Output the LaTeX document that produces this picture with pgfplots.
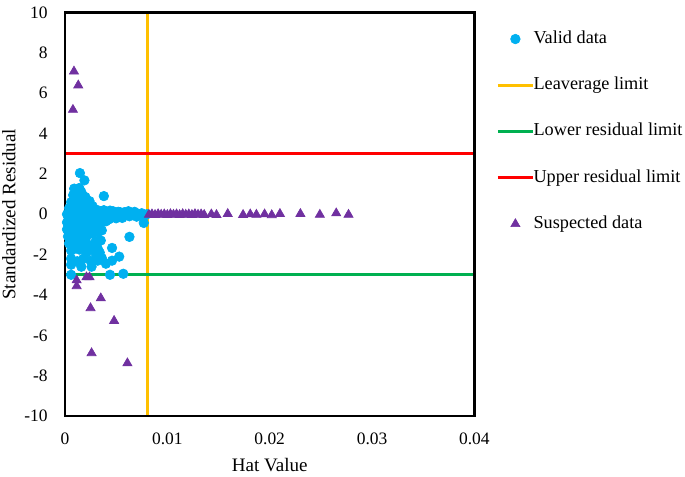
\documentclass[border=0pt]{standalone}
\usepackage{fontspec}
\setmainfont{Liberation Serif}
\usepackage{pgfplots}
\pgfplotsset{compat=1.18}
\definecolor{validblue}{RGB}{0,176,240}
\definecolor{levyellow}{RGB}{255,192,0}
\definecolor{lowgreen}{RGB}{0,176,80}
\definecolor{upred}{RGB}{255,0,0}
\definecolor{suspurple}{RGB}{112,48,160}
\pgfplotsset{
  lineleg/.style={legend image code/.code={\draw[##1] (0pt,0pt) -- (22pt,0pt);}},
  markleg/.style={legend image code/.code={\draw[mark repeat=2,mark phase=2,##1] plot coordinates {(0pt,0pt) (11pt,0pt) (22pt,0pt)};}},
}
\begin{document}
\fontsize{10.9pt}{13pt}\selectfont
\begin{tikzpicture}
\useasboundingbox (-40.6pt,-37.5pt) rectangle (387.5pt,260pt);
\begin{axis}[
  at={(0,0)}, anchor=south west,
  scale only axis, width=255.9pt, height=252.2pt,
  xmin=0, xmax=0.04, ymin=-10, ymax=10,
  xtick={0,0.01,0.02,0.03,0.04}, xticklabels={0,0.01,0.02,0.03,0.04},
  scaled x ticks=false,
  ytick={-10,-8,...,10},
  major tick length=0pt,
  /pgf/number format/assume math mode=true,
  axis line style={line width=1.5pt},
  axis on top,
  xlabel={Hat Value}, ylabel={Standardized Residual},
  every axis x label/.style={at={(axis description cs:0.5,-0.1214)}, anchor=center, font=\fontsize{11.9pt}{14pt}\selectfont},
  every axis y label/.style={at={(axis description cs:-0.137,0.5)}, rotate=90, anchor=center, font=\fontsize{11.9pt}{14pt}\selectfont},
  xticklabel style={yshift=-6.4pt},
  yticklabel style={xshift=-7pt},
  legend style={at={(axis description cs:1.0526,0.956)}, anchor=north west, draw=none, fill=none, inner sep=0pt, row sep=18.3pt, column sep=-0.6pt, font=\fontsize{11.4pt}{14pt}\selectfont, nodes={inner sep=0pt, text height=8pt, text depth=2.6pt}},
  legend cell align=left,
]
\addplot[only marks, mark=*, mark size=3pt, color=validblue, markleg]
coordinates {
(0.00146,2.04) (0.0019,1.68) (0.0009,1.27) (0.0038,0.90)
(0.0008,0.95) (0.0012,1.0) (0.0016,1.1) (0.0020,0.85) (0.0024,0.65) (0.0014,1.3) (0.0018,0.9)
(0.0006,0.6) (0.0010,0.65) (0.0014,0.7) (0.0018,0.6) (0.0022,0.5) (0.0027,0.4)
(0.0004,0.3) (0.0008,0.35) (0.0012,0.3) (0.0016,0.35) (0.0020,0.25) (0.0024,0.2) (0.0028,0.2) (0.0032,0.2)
(0.0002,0.0) (0.0006,0.0) (0.0010,0.05) (0.0014,-0.05) (0.0018,0.0) (0.0022,-0.05) (0.0026,0.0) (0.0030,-0.05) (0.0034,0.05)
(0.0004,-0.15) (0.0008,-0.18) (0.0012,-0.15) (0.0016,-0.2) (0.0020,-0.15) (0.0024,-0.18) (0.0028,-0.15) (0.0032,-0.15)
(0.0036,0.15) (0.0039,-0.1) (0.0042,0.1) (0.0045,-0.15) (0.0048,0.05) (0.0051,-0.1) (0.0054,0.1) (0.0057,-0.05) (0.0060,0.05) (0.0063,-0.1) (0.0066,0.05) (0.0069,-0.05) (0.0072,0.0) (0.0075,0.05) (0.0078,-0.05) (0.0080,0.0) (0.0077,-0.43)
(0.0043,-0.25) (0.0047,0.15) (0.0052,0.12) (0.0040,-0.35) (0.0035,-0.3) (0.0058,0.1) (0.0064,0.08) (0.0070,-0.12) (0.0038,0.2) (0.0044,0.18) (0.0050,-0.2) (0.0056,-0.18) (0.0062,0.15) (0.0068,0.12)
(0.0002,-0.4) (0.0006,-0.35) (0.0010,-0.3) (0.0014,-0.4) (0.0018,-0.35) (0.0022,-0.3) (0.0026,-0.35) (0.0030,-0.3)
(0.0004,-0.55) (0.0008,-0.5) (0.0012,-0.55) (0.0016,-0.55) (0.0020,-0.5) (0.0024,-0.52) (0.0028,-0.48)
(0.0002,-0.75) (0.0006,-0.7) (0.0010,-0.7) (0.0014,-0.75) (0.0018,-0.7) (0.0022,-0.65) (0.0026,-0.7) (0.0030,-0.6) (0.0034,-0.55)
(0.0004,-0.9) (0.0008,-0.88) (0.0012,-0.85) (0.0016,-0.9) (0.0020,-0.85) (0.0024,-0.85)
(0.0003,-1.1) (0.0007,-1.05) (0.0011,-1.0) (0.0015,-1.1) (0.0019,-1.05) (0.0023,-1.0) (0.0027,-0.95) (0.0032,-0.9) (0.0036,-0.8)
(0.0004,-1.45) (0.0008,-1.4) (0.0012,-1.35) (0.0016,-1.4) (0.0030,-1.35) (0.0035,-1.3) (0.0006,-1.25) (0.0010,-1.2) (0.0014,-1.25) (0.0020,-1.25)
(0.0006,-1.8) (0.0010,-1.7) (0.0014,-1.75) (0.0021,-1.9) (0.0028,-1.5) (0.0032,-1.7) (0.0034,-1.9) (0.0036,-2.17) (0.0046,-1.67) (0.0053,-2.1) (0.0046,-2.3)
(0.0008,-1.6) (0.0012,-1.55) (0.0018,-1.6) (0.0022,-1.5) (0.0026,-1.65) (0.0030,-1.95)
(0.0006,-2.2) (0.0006,-2.5) (0.0012,-2.33) (0.0006,-3.0) (0.0016,-2.6) (0.0026,-2.6) (0.0044,-3.0) (0.0057,-2.95) (0.0063,-1.12) (0.0018,-2.2) (0.0025,-2.3) (0.0032,-2.3) (0.0040,-2.45)
};
\addlegendentry{Valid data}
\addplot[color=levyellow, line width=1.9pt, lineleg]
coordinates {(0.0081,-10) (0.0081,10)};
\addlegendentry{Leaverage limit}
\addplot[color=lowgreen, line width=1.9pt, lineleg]
coordinates {(0,-3) (0.04,-3)};
\addlegendentry{Lower residual limit}
\addplot[color=upred, line width=1.9pt, lineleg]
coordinates {(0,3) (0.04,3)};
\addlegendentry{Upper residual limit}
\addplot[only marks, mark=triangle*, mark size=3.3pt, color=suspurple, markleg]
coordinates {
(0.00088,7.08) (0.0013,6.39) (0.00078,5.18)
(0.00114,-3.27) (0.00114,-3.56) (0.0021,-3.12) (0.0024,-3.12) (0.0035,-4.16) (0.0025,-4.65) (0.0048,-5.28) (0.0026,-6.88) (0.0061,-7.38)
(0.0082,-0.02) (0.0085,0.0) (0.0088,-0.03) (0.0091,0.01) (0.0094,-0.02) (0.0097,0.0) (0.0100,-0.03) (0.0103,0.01) (0.0106,-0.02) (0.0109,0.0)
(0.0112,-0.03) (0.0115,0.01) (0.0118,-0.02) (0.0121,0.0) (0.0124,-0.03) (0.0127,0.01) (0.0130,-0.02) (0.0133,0.0) (0.0136,-0.03)
(0.0143,0.0) (0.0148,-0.03) (0.0159,0.02) (0.0174,-0.03) (0.0181,0.0) (0.0187,-0.02) (0.0195,0.0) (0.0202,-0.04) (0.0210,0.02)
(0.0230,0.02) (0.0249,-0.02) (0.0265,0.05) (0.0277,-0.02)
};
\addlegendentry{Suspected data}
\end{axis}
\end{tikzpicture}
\end{document}
